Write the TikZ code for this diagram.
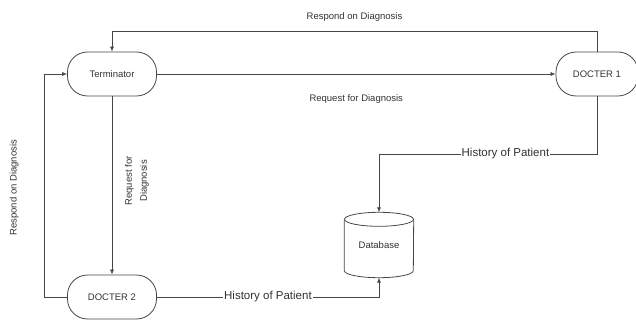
\documentclass[tikz,border=0pt]{standalone}
\usepackage{fontspec}
\setmainfont{Liberation Sans}
\usetikzlibrary{arrows.meta}
\definecolor{linec}{RGB}{70,70,70}
\definecolor{textc}{RGB}{50,50,50}

\begin{document}
\begin{tikzpicture}[x=1pt, y=-1pt,
  proc/.style={draw=linec, thick, rounded corners=20pt, minimum width=89pt, minimum height=44pt, inner sep=0pt, text=textc, font=\fontsize{9.5}{11}\selectfont},
  flow/.style={draw=linec, semithick, -{Latex[length=5pt,width=4pt]}},
  lbl/.style={text=textc, font=\fontsize{9.5}{11}\selectfont, inner sep=1pt},
  hlbl/.style={text=textc, fill=white, font=\fontsize{11.5}{13}\selectfont, inner sep=1pt}]
\useasboundingbox (0,0) rectangle (636,320);
\node[proc] (term) at (112,74) {Terminator};
\node[proc, minimum width=82pt] (doc1) at (597,74) {DOCTER 1};
\node[proc] (doc2) at (112,297) {DOCTER 2};
\node[minimum width=69pt, minimum height=65pt, inner sep=0pt, text=textc, font=\fontsize{9.5}{11}\selectfont] (db) at (379,245) {Database};
% cylinder outline of the database
\draw[linec, thick] ([yshift=-7pt]db.north) ellipse (34.5pt and 7pt);
\draw[linec, thick] ([yshift=-7pt]db.north west) -- ([yshift=7pt]db.south west) arc (180:360:34.5pt and 7pt) -- ([yshift=-7pt]db.north east);
\coordinate (t1) at (597,31);
\coordinate (t2) at (112,31);
\coordinate (h1) at (597,154);
\coordinate (h2) at (379,154);
\coordinate (h3) at (379,297);
\coordinate (r1) at (44,297);
\coordinate (r2) at (44,74);
\draw[flow] (doc1.north) -- (t1) -- node[lbl, above=8pt] {Respond on Diagnosis} (t2) -- (term.north);
\draw[flow] (term.east) -- node[lbl, below=19pt] {Request for Diagnosis} (doc1.west);
\draw[flow] (doc1.south) -- (h1) -- node[hlbl, pos=0.42] {History of Patient} (h2) -- (db.north);
\draw[flow] (term.south) -- (doc2.north);
\node[lbl, rotate=90, align=center] (lreq) at (137,181) {Request for\\[4pt]Diagnosis};
\draw[flow] (doc2.east) -- node[hlbl] {History of Patient} (h3) -- (db.south);
\draw[flow] (doc2.west) -- (r1) -- node[lbl, rotate=90, pos=0.49, above=24pt] {Respond on Diagnosis} (r2) -- (term.west);
\end{tikzpicture}
\end{document}
